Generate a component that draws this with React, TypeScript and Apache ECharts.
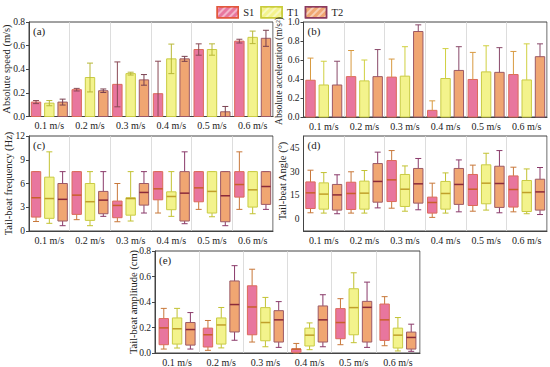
import React, { useEffect, useRef } from 'react';
import * as echarts from 'echarts';

const categories = ['0.1 m/s', '0.2 m/s', '0.3 m/s', '0.4 m/s', '0.5 m/s', '0.6 m/s'];
const seriesNames = ['S1', 'T1', 'T2'];
const axisNames = ['Absolute speed (m/s)', 'Absolute acceleration (m/s²)', 'Tail-beat frequency (Hz)', 'Tail-beat Angle (°)', 'Tail-beat amplitude (cm)'];
const panelLabels = ['(a)', '(b)', '(c)', '(d)', '(e)'];

// (a) Absolute speed: mean and +/- error
const speedMeanS1 = [0.122, 0.227, 0.272, 0.193, 0.567, 0.638];
const speedErrS1 = [0.013, 0.011, 0.19, 0.275, 0.048, 0.016];
const speedMeanT1 = [0.113, 0.33, 0.363, 0.488, 0.567, 0.67];
const speedErrT1 = [0.022, 0.122, 0.012, 0.125, 0.048, 0.053];
const speedMeanT2 = [0.122, 0.218, 0.31, 0.488, 0.04, 0.662];
const speedErrT2 = [0.025, 0.015, 0.045, 0.021, 0.045, 0.068];

// (b) Absolute acceleration: mean and upper error
const accMeanS1 = [0.387, 0.425, 0.42, 0.07, 0.395, 0.447];
const accErrS1 = [0.233, 0.275, 0.19, 0.1, 0.285, 0.243];
const accMeanT1 = [0.337, 0.38, 0.43, 0.405, 0.475, 0.39];
const accErrT1 = [0.25, 0.22, 0.31, 0.315, 0.275, 0.38];
const accMeanT2 = [0.337, 0.425, 0.9, 0.49, 0.47, 0.635];
const accErrT2 = [0.25, 0.285, 0.07, 0.25, 0.26, 0.135];

// (c) Tail-beat frequency: [min, q1, median, q3, max]
const freqS1 = [[1.2, 1.76, 4.2, 7.5, 7.5], [1.43, 2.1, 4.53, 7.5, 7.5], [1.17, 1.68, 3.23, 3.78, 6.0], [2.27, 3.94, 5.33, 7.5, 7.5], [2.73, 3.69, 5.45, 7.5, 7.5], [2.73, 4.28, 5.87, 7.5, 10.0]];
const freqT1 = [[0.97, 1.6, 4.1, 6.8, 10.0], [0.67, 1.34, 3.7, 6.0, 7.5], [1.26, 2.0, 4.1, 4.2, 7.5], [1.85, 2.69, 4.36, 4.95, 7.5], [1.8, 2.27, 5.0, 7.5, 7.5], [2.18, 3.02, 5.2, 7.5, 7.5]];
const freqT2 = [[0.67, 1.26, 4.0, 6.0, 7.5], [1.85, 2.18, 3.9, 5.0, 7.5], [2.27, 3.27, 4.87, 6.0, 7.5], [0.92, 1.26, 4.78, 7.5, 10.0], [0.67, 1.17, 4.45, 7.5, 7.5], [2.73, 3.36, 5.62, 7.5, 7.5]];

// (d) Tail-beat angle
const angleS1 = [[4.0, 6.7, 16.6, 23.5, 30.9], [3.8, 6.1, 16.2, 23.3, 29.9], [6.9, 11.1, 24.8, 37.0, 43.3], [1.1, 3.8, 10.5, 13.9, 22.7], [5.0, 8.6, 18.9, 28.2, 34.1], [4.6, 7.6, 18.7, 27.3, 32.8]];
const angleT1 = [[3.8, 6.3, 15.8, 22.9, 29.4], [3.8, 6.3, 16.4, 24.0, 30.7], [5.0, 8.0, 18.9, 28.2, 33.6], [3.8, 6.3, 16.2, 23.8, 29.2], [5.7, 9.7, 22.7, 34.3, 41.6], [3.4, 4.8, 16.8, 24.4, 31.7]];
const angleT2 = [[3.4, 5.7, 15.3, 21.9, 28.0], [7.1, 10.7, 23.8, 35.1, 42.3], [5.9, 10.1, 22.3, 32.0, 38.3], [4.6, 9.3, 21.9, 32.0, 37.4], [4.0, 7.4, 22.5, 33.4, 43.3], [2.9, 5.7, 17.2, 25.2, 32.6]];

// (e) Tail-beat amplitude
const ampS1 = [[0.031, 0.065, 0.197, 0.27, 0.35], [0.021, 0.047, 0.143, 0.195, 0.255], [0.086, 0.143, 0.361, 0.527, 0.657], [0.0, 0.005, 0.031, 0.031, 0.075], [0.065, 0.112, 0.239, 0.348, 0.426], [0.057, 0.099, 0.26, 0.384, 0.442]];
const ampT1 = [[0.039, 0.07, 0.19, 0.275, 0.35], [0.04, 0.07, 0.22, 0.275, 0.357], [0.049, 0.096, 0.239, 0.356, 0.436], [0.026, 0.055, 0.14, 0.195, 0.236], [0.081, 0.143, 0.356, 0.504, 0.629], [0.016, 0.039, 0.14, 0.195, 0.278]];
const ampT2 = [[0.031, 0.062, 0.184, 0.239, 0.317], [0.1, 0.165, 0.38, 0.565, 0.685], [0.044, 0.086, 0.26, 0.332, 0.403], [0.049, 0.086, 0.26, 0.369, 0.457], [0.044, 0.086, 0.358, 0.405, 0.556], [0.013, 0.031, 0.122, 0.164, 0.226]];

const FONT = 'Liberation Serif, Times New Roman, serif';

const fills = ['#e8769e', '#f3f38c', '#f0a672'];
const borders = ['#dc6a5a', '#c9cb44', '#9c5a66'];
const whiskers = ['#c8783a', '#c2c232', '#8a3a6a'];
const medians = ['#c8602a', '#c0a02a', '#8a2a3a'];
const errA = ['#8a4a55', '#b8b838', '#7a4050'];
const errB = ['#d89a40', '#d0d040', '#8a4a6a'];
const legendBorders = ['#e2573c', '#c9cc3a', '#8b3a5e'];
const offsets = [-13.3, 0, 13.3];

function barRender(idx: number, errColors: string[], twoSided: boolean) {
  return (params: any, api: any) => {
    const x = api.value(0);
    const mean = api.value(1);
    const err = api.value(2);
    const base = api.coord([x, 0]);
    const top = api.coord([x, mean]);
    const hi = api.coord([x, mean + err]);
    const lo = api.coord([x, Math.max(0, mean - err)]);
    const cx = base[0] + offsets[idx];
    const w = 9.4;
    const cw = 6;
    const children: any[] = [
      {
        type: 'rect',
        shape: { x: cx - w / 2, y: top[1], width: w, height: base[1] - top[1] },
        style: { fill: fills[idx], stroke: borders[idx], lineWidth: 1 },
      },
      {
        type: 'line',
        shape: { x1: cx, y1: twoSided ? lo[1] : top[1], x2: cx, y2: hi[1] },
        style: { stroke: errColors[idx], lineWidth: 1 },
      },
      {
        type: 'line',
        shape: { x1: cx - cw / 2, y1: hi[1], x2: cx + cw / 2, y2: hi[1] },
        style: { stroke: errColors[idx], lineWidth: 1 },
      },
    ];
    if (twoSided && mean - err > 0) {
      children.push({
        type: 'line',
        shape: { x1: cx - cw / 2, y1: lo[1], x2: cx + cw / 2, y2: lo[1] },
        style: { stroke: errColors[idx], lineWidth: 1 },
      });
    }
    return { type: 'group', children };
  };
}

function boxRender(idx: number) {
  return (params: any, api: any) => {
    const x = api.value(0);
    const pLow = api.coord([x, api.value(1)]);
    const pQ1 = api.coord([x, api.value(2)]);
    const pMed = api.coord([x, api.value(3)]);
    const pQ3 = api.coord([x, api.value(4)]);
    const pHigh = api.coord([x, api.value(5)]);
    const cx = pLow[0] + offsets[idx];
    const w = 9.4;
    const cw = 6;
    const ws = { stroke: whiskers[idx], lineWidth: 1 };
    return {
      type: 'group',
      children: [
        { type: 'line', shape: { x1: cx, y1: pQ3[1], x2: cx, y2: pHigh[1] }, style: ws },
        { type: 'line', shape: { x1: cx, y1: pQ1[1], x2: cx, y2: pLow[1] }, style: ws },
        { type: 'line', shape: { x1: cx - cw / 2, y1: pHigh[1], x2: cx + cw / 2, y2: pHigh[1] }, style: ws },
        { type: 'line', shape: { x1: cx - cw / 2, y1: pLow[1], x2: cx + cw / 2, y2: pLow[1] }, style: ws },
        {
          type: 'rect',
          shape: { x: cx - w / 2, y: pQ3[1], width: w, height: Math.max(0.5, pQ1[1] - pQ3[1]) },
          style: { fill: fills[idx], stroke: borders[idx], lineWidth: 1 },
        },
        {
          type: 'line',
          shape: { x1: cx - w / 2, y1: pMed[1], x2: cx + w / 2, y2: pMed[1] },
          style: { stroke: medians[idx], lineWidth: 1.5 },
        },
      ],
    };
  };
}

const grids = [
  { left: 29, top: 22, width: 244, height: 94.5 },
  { left: 303.5, top: 22, width: 243.5, height: 95 },
  { left: 29, top: 136, width: 244, height: 95 },
  { left: 303.5, top: 136, width: 243.5, height: 95 },
  { left: 155, top: 251, width: 265, height: 102 },
];
// centres of the rotated y-axis titles
const nameCentres = [[6, 69], [278.5, 71], [8, 183.5], [282, 181], [133, 302]];
const nameSizes = [10.5, 9.5, 10.5, 10.5, 10.5];

export default function App() {
  const ref = useRef<HTMLDivElement>(null);
  useEffect(() => {
    if (!ref.current) return;
    const chart = echarts.init(ref.current, undefined, { renderer: 'svg' });

    const xAxes = grids.map((_, i) => ({
      type: 'category',
      gridIndex: i,
      data: categories,
      axisLine: { onZero: false, lineStyle: { color: '#444', width: 1 } },
      axisTick: { show: false },
      axisLabel: { fontSize: 10, color: '#222', fontFamily: FONT, margin: 4 },
      splitLine: { show: true, lineStyle: { color: '#d4d4d4', width: 0.8 } },
    }));

    const yBase = {
      axisLine: { show: true, lineStyle: { color: '#444', width: 1 } },
      axisTick: { show: true, length: 3, lineStyle: { color: '#444' } },
      axisLabel: { fontSize: 9.5, color: '#222', fontFamily: FONT, margin: 4 },
      splitLine: { show: false },
    };
    const yAxes = [
      { ...yBase, type: 'value', gridIndex: 0, min: 0, max: 0.8, interval: 0.2,
        axisLabel: { ...yBase.axisLabel, formatter: (v: number) => v.toFixed(1) } },
      { ...yBase, type: 'value', gridIndex: 1, min: 0, max: 1.0, interval: 0.2,
        axisLabel: { ...yBase.axisLabel, formatter: (v: number) => v.toFixed(1) } },
      { ...yBase, type: 'value', gridIndex: 2, min: 0, max: 12, interval: 3 },
      { ...yBase, type: 'value', gridIndex: 3, min: -7.5, max: 52.5, interval: 7.5,
        axisTick: { show: false },
        axisLabel: { ...yBase.axisLabel, formatter: (v: number) => (Math.abs(v % 15) < 1e-6 && v >= 0 && v <= 45 ? String(v) : '') } },
      { ...yBase, type: 'value', gridIndex: 4, min: 0, max: 0.8, interval: 0.2,
        axisLabel: { ...yBase.axisLabel, formatter: (v: number) => v.toFixed(1) } },
    ];

    const series: any[] = [];
    const speedMeans = [speedMeanS1, speedMeanT1, speedMeanT2];
    const speedErrs = [speedErrS1, speedErrT1, speedErrT2];
    const accMeans = [accMeanS1, accMeanT1, accMeanT2];
    const accErrs = [accErrS1, accErrT1, accErrT2];
    seriesNames.forEach((name, k) => {
      series.push({
        type: 'custom', name, xAxisIndex: 0, yAxisIndex: 0,
        renderItem: barRender(k, errA, true),
        encode: { x: 0, y: [1] },
        data: categories.map((_, i) => [i, speedMeans[k][i], speedErrs[k][i]]),
      });
      series.push({
        type: 'custom', name, xAxisIndex: 1, yAxisIndex: 1,
        renderItem: barRender(k, errB, false),
        encode: { x: 0, y: [1] },
        data: categories.map((_, i) => [i, accMeans[k][i], accErrs[k][i]]),
      });
    });
    const boxSets = [
      [freqS1, freqT1, freqT2],
      [angleS1, angleT1, angleT2],
      [ampS1, ampT1, ampT2],
    ];
    boxSets.forEach((set, p) => {
      set.forEach((arr, k) => {
        series.push({
          type: 'custom', name: seriesNames[k], xAxisIndex: p + 2, yAxisIndex: p + 2,
          renderItem: boxRender(k),
          encode: { x: 0, y: [1, 2, 3, 4, 5] },
          data: arr.map((d, i) => [i, ...d]),
        });
      });
    });

    const graphics: any[] = grids.map((g, i) => ({
      type: 'text',
      left: g.left + 4,
      top: g.top + 3,
      style: { text: panelLabels[i], fontSize: 11, fontFamily: FONT, fill: '#222' },
    }));
    axisNames.forEach((n, i) => {
      graphics.push({
        type: 'text',
        x: nameCentres[i][0],
        y: nameCentres[i][1],
        rotation: Math.PI / 2,
        z: 100,
        style: {
          text: n, fontSize: nameSizes[i], fontFamily: FONT, fill: '#222',
          align: 'center', verticalAlign: 'middle',
        },
      });
    });

    const decal = {
      symbol: 'rect', symbolSize: 1, color: 'rgba(255,255,255,0.45)',
      dashArrayX: [1, 0], dashArrayY: [2, 3], rotation: -Math.PI / 4,
    };

    chart.setOption({
      animation: false,
      textStyle: { fontFamily: FONT },
      grid: grids.map((g) => ({ ...g, show: true, borderColor: '#444', borderWidth: 1, backgroundColor: 'transparent' })),
      xAxis: xAxes,
      yAxis: yAxes,
      legend: {
        left: 211.5,
        top: 1,
        itemWidth: 21,
        itemHeight: 11,
        itemGap: 6,
        textStyle: { fontSize: 10.5, lineHeight: 11, color: '#222', fontFamily: FONT },
        data: seriesNames.map((n, k) => ({
          name: n,
          icon: 'rect',
          itemStyle: { color: fills[k], borderColor: legendBorders[k], borderWidth: 1.5, decal },
        })),
      },
      graphic: graphics,
      series,
    });
    return () => chart.dispose();
  }, []);
  return <div ref={ref} style={{ position: 'absolute', left: 0, top: 0, width: 550, height: 367 }} />;
}
